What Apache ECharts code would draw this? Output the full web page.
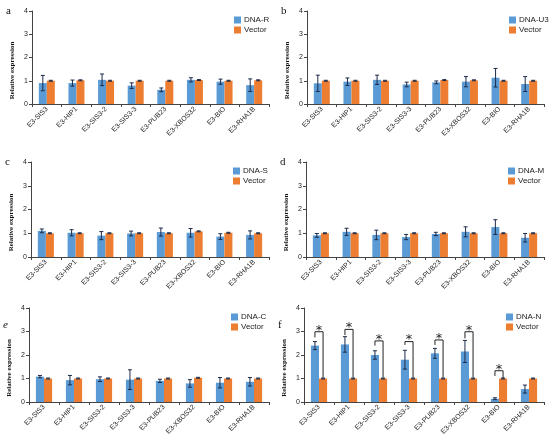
<!DOCTYPE html>
<html>
<head>
<meta charset="utf-8">
<script src="https://cdn.jsdelivr.net/npm/echarts@6/dist/echarts.min.js"></script>
<style>
  html, body { margin: 0; padding: 0; background: #fff; }
  #chart { width: 550px; height: 443px; }
</style>
</head>
<body>
<div id="chart"></div>
<script>
var categories = ['E3-SIS3', 'E3-HIP1', 'E3-SIS3-2', 'E3-SIS3-3', 'E3-PUB23', 'E3-XBOS32', 'E3-BIO', 'E3-RHA1B'];
var yTicks = [0, 1, 2, 3, 4];

// panel a
var dnaR = [0.90, 0.90, 1.04, 0.79, 0.61, 1.04, 0.96, 0.81];
var dnaRErr = [0.33, 0.13, 0.25, 0.12, 0.08, 0.09, 0.11, 0.27];
var vecA = [1.00, 1.02, 1.00, 1.00, 1.00, 1.03, 1.00, 1.02];
var vecAErr = [0.02, 0.02, 0.02, 0.02, 0.02, 0.02, 0.02, 0.02];
// panel b
var dnaU3 = [0.89, 0.96, 1.04, 0.84, 0.93, 0.96, 1.13, 0.86];
var dnaU3Err = [0.35, 0.16, 0.20, 0.10, 0.06, 0.22, 0.40, 0.32];
var vecB = [1.00, 1.00, 1.00, 1.00, 1.03, 1.02, 1.00, 1.00];
var vecBErr = [0.02, 0.02, 0.02, 0.02, 0.02, 0.02, 0.02, 0.02];
// panel c
var dnaS = [1.10, 1.02, 0.90, 0.99, 1.05, 1.02, 0.86, 0.93];
var dnaSErr = [0.08, 0.13, 0.17, 0.10, 0.17, 0.18, 0.12, 0.17];
var vecC = [1.00, 1.00, 1.00, 1.00, 1.00, 1.08, 1.02, 1.00];
var vecCErr = [0.02, 0.02, 0.02, 0.02, 0.02, 0.02, 0.02, 0.02];
// panel d
var dnaM = [0.91, 1.06, 0.93, 0.84, 0.97, 1.06, 1.26, 0.81];
var dnaMErr = [0.08, 0.15, 0.20, 0.11, 0.07, 0.21, 0.31, 0.18];
var vecD = [1.00, 1.00, 1.00, 1.00, 1.00, 1.00, 1.00, 1.00];
var vecDErr = [0.02, 0.02, 0.02, 0.02, 0.02, 0.02, 0.02, 0.02];
// panel e
var dnaC = [1.08, 0.93, 0.97, 0.95, 0.90, 0.79, 0.82, 0.86];
var dnaCErr = [0.05, 0.20, 0.10, 0.42, 0.07, 0.16, 0.22, 0.18];
var vecE = [1.00, 1.00, 1.00, 1.00, 1.00, 1.03, 1.00, 1.00];
var vecEErr = [0.02, 0.02, 0.02, 0.02, 0.02, 0.02, 0.02, 0.02];
// panel f
var dnaN = [2.40, 2.45, 2.00, 1.80, 2.07, 2.15, 0.14, 0.55];
var dnaNErr = [0.17, 0.33, 0.18, 0.40, 0.21, 0.47, 0.04, 0.17];
var vecF = [1.00, 1.00, 1.00, 1.00, 1.00, 1.00, 1.00, 1.00];
var vecFErr = [0.02, 0.02, 0.02, 0.02, 0.02, 0.02, 0.02, 0.02];

// significance brackets in panel f: category index, left leg bottom, bracket top, right leg bottom
var sigIndex = [0, 1, 2, 3, 4, 5, 6];
var sigLeftBottom = [2.75, 2.85, 2.40, 2.43, 2.43, 2.71, 1.11];
var sigTop = [2.99, 3.09, 2.60, 2.57, 2.64, 2.99, 1.33];
var sigRightBottom = [1.04, 1.04, 1.04, 1.04, 1.04, 1.04, 1.02];

var panels = [
  { letter: 'a', name: 'DNA-R', mean: dnaR, err: dnaRErr, vec: vecA, vecErr: vecAErr },
  { letter: 'b', name: 'DNA-U3', mean: dnaU3, err: dnaU3Err, vec: vecB, vecErr: vecBErr },
  { letter: 'c', name: 'DNA-S', mean: dnaS, err: dnaSErr, vec: vecC, vecErr: vecCErr },
  { letter: 'd', name: 'DNA-M', mean: dnaM, err: dnaMErr, vec: vecD, vecErr: vecDErr },
  { letter: 'e', name: 'DNA-C', mean: dnaC, err: dnaCErr, vec: vecE, vecErr: vecEErr },
  { letter: 'f', name: 'DNA-N', mean: dnaN, err: dnaNErr, vec: vecF, vecErr: vecFErr }
];

// layout of the six plot areas
var boxes = [
  { left: 32, top: 11, width: 237, height: 93 },
  { left: 307, top: 11, width: 237, height: 93 },
  { left: 31, top: 162, width: 238, height: 95 },
  { left: 306, top: 162, width: 238, height: 95 },
  { left: 29, top: 308, width: 240, height: 94 },
  { left: 304, top: 308, width: 240, height: 94 }
];

var BLUE = '#5B9BD5';
var ORANGE = '#ED7D31';
var BAR_W = 0.27;
var AXIS_COLOR = '#444';

function errBars(shift) {
  return function (params, api) {
    var idx = api.value(0);
    var band = api.size([1, 0])[0];
    var dx = shift * band * BAR_W / 2;
    var hi = api.coord([idx, api.value(1) + api.value(2)]);
    var lo = api.coord([idx, api.value(1) - api.value(2)]);
    var x = hi[0] + dx;
    var cap = 2;
    var st = { stroke: '#1c2a48', lineWidth: 1 };
    return {
      type: 'group',
      children: [
        { type: 'line', shape: { x1: x, y1: hi[1], x2: x, y2: lo[1] }, style: st },
        { type: 'line', shape: { x1: x - cap, y1: hi[1], x2: x + cap, y2: hi[1] }, style: st },
        { type: 'line', shape: { x1: x - cap, y1: lo[1], x2: x + cap, y2: lo[1] }, style: st }
      ]
    };
  };
}

function bracketItem(params, api) {
  var idx = api.value(0);
  var band = api.size([1, 0])[0];
  var dx = band * BAR_W / 2;
  var lb = api.coord([idx, api.value(1)]);
  var tp = api.coord([idx, api.value(2)]);
  var rb = api.coord([idx, api.value(3)]);
  var lx = tp[0] - dx, rx = tp[0] + dx;
  return {
    type: 'group',
    children: [
      {
        type: 'polyline',
        shape: { points: [[lx, lb[1]], [lx, tp[1]], [rx, tp[1]], [rx, rb[1]]] },
        style: { stroke: '#222', lineWidth: 1, fill: null }
      },
      {
        type: 'text',
        x: tp[0], y: tp[1] + 5,
        style: { text: '*', fontSize: 13, fill: '#222',
          fontFamily: 'DejaVu Sans', textAlign: 'center', textVerticalAlign: 'bottom' }
      }
    ]
  };
}

var grid = [], xAxis = [], yAxis = [], series = [], legend = [], graphic = [];

panels.forEach(function (p, i) {
  var b = boxes[i];
  grid.push({ left: b.left, top: b.top, width: b.width, height: b.height, containLabel: false });
  xAxis.push({
    type: 'category', gridIndex: i, data: categories,
    axisLine: { lineStyle: { color: AXIS_COLOR, width: 1 } },
    axisTick: { show: true, alignWithLabel: false, length: 3, lineStyle: { color: AXIS_COLOR } },
    axisLabel: { interval: 0, rotate: 45, fontSize: 7, color: '#222', margin: 4, fontFamily: 'Liberation Sans' }
  });
  yAxis.push({
    type: 'value', gridIndex: i, min: yTicks[0], max: yTicks[yTicks.length - 1], interval: 1,
    axisLine: { show: true, lineStyle: { color: AXIS_COLOR, width: 1 } },
    axisTick: { show: true, length: 3, lineStyle: { color: AXIS_COLOR } },
    splitLine: { show: false },
    axisLabel: { fontSize: 7, color: '#222', margin: 4, fontFamily: 'Liberation Sans' }
  });
  series.push({
    name: p.name, type: 'bar', xAxisIndex: i, yAxisIndex: i,
    data: p.mean, barWidth: (BAR_W * 100) + '%', barGap: '0%',
    itemStyle: { color: BLUE }
  });
  series.push({
    name: 'Vector', type: 'bar', xAxisIndex: i, yAxisIndex: i,
    data: p.vec, barWidth: (BAR_W * 100) + '%', barGap: '0%',
    itemStyle: { color: ORANGE }
  });
  series.push({
    type: 'custom', xAxisIndex: i, yAxisIndex: i, z: 5, silent: true,
    renderItem: errBars(-1),
    data: p.mean.map(function (v, k) { return [k, v, p.err[k]]; })
  });
  series.push({
    type: 'custom', xAxisIndex: i, yAxisIndex: i, z: 5, silent: true,
    renderItem: errBars(1),
    data: p.vec.map(function (v, k) { return [k, v, p.vecErr[k]]; })
  });
  legend.push({
    data: [p.name, 'Vector'], orient: 'vertical',
    left: b.left + 197, top: b.top + 0,
    icon: 'rect', itemWidth: 7, itemHeight: 7, itemGap: 2,
    textStyle: { fontSize: 8, color: '#222', fontFamily: 'Liberation Sans', padding: [0, 0, 0, -2] }
  });
  graphic.push({
    type: 'text', left: b.left - 26, top: (i < 4 ? b.top - 5 : b.top + 12),
    style: { text: p.letter, fontSize: 11, fontFamily: 'Liberation Serif', fill: '#111',
      fontStyle: (p.letter === 'e' ? 'italic' : 'normal') }
  });
  graphic.push({
    type: 'text', x: b.left - 20, y: b.top + b.height / 2 + 13, rotation: Math.PI / 2,
    style: { text: 'Relative expression', fontSize: 7, fontWeight: 'bold',
      fontFamily: 'Liberation Serif', fill: '#111', textAlign: 'center', textVerticalAlign: 'middle' }
  });
});

series.push({
  type: 'custom', xAxisIndex: 5, yAxisIndex: 5, z: 6, silent: true,
  renderItem: bracketItem,
  data: sigIndex.map(function (c, k) { return [c, sigLeftBottom[k], sigTop[k], sigRightBottom[k]]; })
});

var chart = echarts.init(document.getElementById('chart'));
chart.setOption({
  animation: false,
  grid: grid, xAxis: xAxis, yAxis: yAxis, series: series, legend: legend, graphic: graphic
});
</script>
</body>
</html>
